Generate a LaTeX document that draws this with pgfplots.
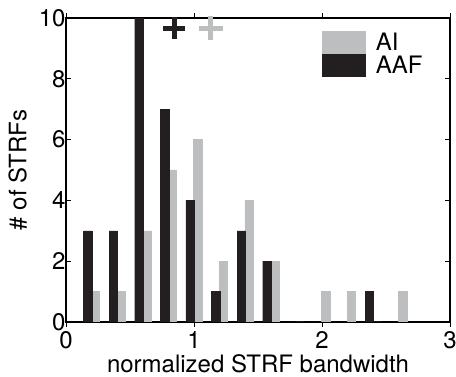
\documentclass[border=0pt]{standalone}
\usepackage{fontspec}
\setmainfont{TeX Gyre Heros}
\usepackage{pgfplots}
\pgfplotsset{compat=1.18}
\definecolor{aigray}{RGB}{188,190,192}
\definecolor{aafblack}{RGB}{35,31,32}
\begin{document}
\begin{tikzpicture}
\begin{axis}[
  scale only axis,
  width=384pt, height=304pt,
  xmin=0, xmax=3, ymin=0, ymax=10,
  xtick={0,1,2,3}, ytick={0,2,4,6,8,10},
  tick align=inside,
  major tick length=5pt,
  axis line style={line width=1.2pt},
  tick style={line width=0.8pt, black},
  font=\fontsize{24}{28}\selectfont,
  /pgf/number format/assume math mode=true,
  xlabel={normalized STRF bandwidth},
  ylabel={\# of STRFs},
  xlabel style={yshift=-1pt, inner sep=1pt},
  ylabel style={yshift=5pt},
  yticklabel style={xshift=3pt},
  xticklabel style={yshift=-1pt},
  ybar, bar width=0.066,
  legend style={draw=none, fill=none, at={(0.665,0.958)}, anchor=north west,
    font=\fontsize{24}{28}\selectfont, row sep=0pt, inner sep=0pt,
    /tikz/every odd column/.append style={column sep=9pt}},
  legend cell align=left,
  legend image code/.code={\fill[#1] (0pt,-11pt) rectangle (43pt,11pt);},
]
\addplot[fill=aigray, draw=aigray, line width=0.4pt, bar shift=0.03] coordinates {
  (0.2,1) (0.4,1) (0.6,3) (0.8,5) (1.0,6) (1.2,2) (1.4,4) (1.6,2)
  (1.8,0) (2.0,1) (2.2,1) (2.4,0) (2.6,1)};
\addlegendentry{AI}
\addplot[fill=aafblack, draw=aafblack, line width=0.4pt, bar shift=-0.03] coordinates {
  (0.2,3) (0.4,3) (0.6,10) (0.8,7) (1.0,4) (1.2,1) (1.4,3) (1.6,2)
  (1.8,0) (2.0,0) (2.2,0) (2.4,1) (2.6,0)};
\addlegendentry{AAF}
\addplot[forget plot, only marks, mark=+, mark size=11pt, line width=5pt, color=aafblack]
  coordinates {(0.845,9.67)};
\addplot[forget plot, only marks, mark=+, mark size=12pt, line width=5pt, color=aigray]
  coordinates {(1.13,9.67)};
\end{axis}
\pgfresetboundingbox
\path ([shift={(-66pt,-55pt)}]current axis.south west) rectangle ([shift={(6pt,18pt)}]current axis.north east);
\end{tikzpicture}
\end{document}
